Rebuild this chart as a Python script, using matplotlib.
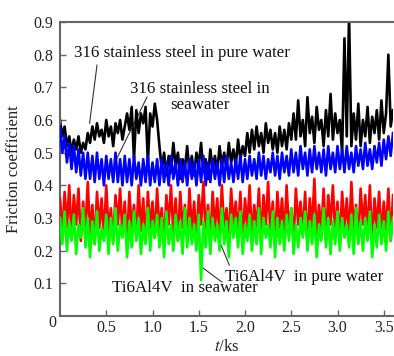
import numpy as np
import matplotlib
matplotlib.use('Agg')
import matplotlib.pyplot as plt

plt.rcParams['font.family'] = ['Liberation Serif', 'DejaVu Serif']
plt.rcParams['mathtext.fontset'] = 'stix'

# time axis (ks), one reading every 0.025 ks
t = np.linspace(0, 3.6, 145)

# 316 stainless steel in pure water
ss_pure = [0.60, 0.55, 0.58, 0.52, 0.55,
           0.50, 0.54, 0.51, 0.55, 0.50, 0.53, 0.51, 0.56,
           0.53, 0.58, 0.54, 0.59, 0.55, 0.57, 0.53, 0.60, 0.55, 0.58, 0.52, 0.59, 0.56, 0.60, 0.54, 0.58,
           0.62, 0.57, 0.64, 0.48, 0.63, 0.56, 0.62, 0.59, 0.64, 0.47, 0.62, 0.58, 0.65, 0.60,
           0.52, 0.45, 0.50, 0.43, 0.49, 0.44, 0.53, 0.46, 0.50, 0.42, 0.48, 0.45, 0.52, 0.44, 0.49, 0.43,
           0.50, 0.46, 0.53, 0.44, 0.48, 0.42, 0.51, 0.45, 0.49, 0.44, 0.52, 0.46, 0.50, 0.45, 0.53, 0.47,
           0.51, 0.46, 0.54, 0.48, 0.52, 0.49,
           0.56, 0.50, 0.57, 0.51, 0.58, 0.52, 0.56, 0.50, 0.59, 0.53, 0.57, 0.51, 0.56, 0.50, 0.58, 0.52,
           0.57, 0.51, 0.59, 0.54,
           0.62, 0.54, 0.66, 0.55, 0.60, 0.52, 0.67, 0.56, 0.61, 0.53, 0.64, 0.57, 0.60, 0.52, 0.63, 0.55,
           0.68, 0.54, 0.62, 0.56,
           0.60, 0.50, 0.85, 0.55, 0.92, 0.52, 0.62, 0.54, 0.65, 0.52, 0.60, 0.55, 0.64, 0.53, 0.61, 0.56,
           0.63, 0.54, 0.66, 0.56, 0.62, 0.80, 0.58, 0.63]

# 316 stainless steel in seawater
ss_sea = [0.58, 0.50, 0.55, 0.47, 0.53,
          0.45, 0.52, 0.44, 0.51, 0.43, 0.50, 0.42, 0.50,
          0.42, 0.49, 0.41, 0.50, 0.42, 0.48, 0.40, 0.49, 0.42, 0.48, 0.41, 0.50, 0.41, 0.48, 0.40, 0.49,
          0.41, 0.48, 0.40, 0.49, 0.42, 0.47, 0.40, 0.48, 0.41, 0.49, 0.40, 0.47, 0.41, 0.48,
          0.40, 0.48, 0.41, 0.47, 0.40, 0.49, 0.42, 0.47, 0.40, 0.48, 0.41, 0.47, 0.40, 0.48, 0.42, 0.47,
          0.40, 0.48, 0.41, 0.49, 0.40, 0.47, 0.41, 0.48, 0.42, 0.47, 0.40, 0.48, 0.41, 0.49, 0.42, 0.47,
          0.41, 0.48, 0.42, 0.49, 0.41, 0.48,
          0.42, 0.49, 0.43, 0.48, 0.42, 0.50, 0.43, 0.49, 0.42, 0.48, 0.44, 0.50, 0.43, 0.49, 0.42, 0.50,
          0.44, 0.49, 0.43, 0.51,
          0.44, 0.50, 0.43, 0.52, 0.45, 0.50, 0.43, 0.51, 0.44, 0.52, 0.45, 0.50, 0.44, 0.51, 0.43, 0.52,
          0.45, 0.50, 0.44, 0.52,
          0.45, 0.51, 0.44, 0.52, 0.45, 0.50, 0.44, 0.52, 0.46, 0.51, 0.45, 0.53, 0.46, 0.51, 0.45, 0.52,
          0.47, 0.53, 0.46, 0.54, 0.48, 0.55, 0.49, 0.56]

# Ti6Al4V in pure water
ti_pure = [0.36, 0.25, 0.38, 0.27, 0.40, 0.24, 0.37, 0.28, 0.39, 0.23, 0.35, 0.26, 0.41, 0.25, 0.34, 0.22, 0.38, 0.27, 0.36, 0.24,
           0.40, 0.26, 0.33, 0.23, 0.37, 0.28, 0.39, 0.25, 0.35, 0.22, 0.38, 0.27, 0.34, 0.24, 0.40, 0.26, 0.36, 0.23, 0.38, 0.27,
           0.35, 0.24, 0.39, 0.26, 0.33, 0.22, 0.37, 0.28, 0.40, 0.25, 0.36, 0.23, 0.38, 0.27, 0.34, 0.24, 0.39, 0.26, 0.35, 0.23,
           0.37, 0.28, 0.41, 0.25, 0.34, 0.22, 0.38, 0.27, 0.36, 0.24, 0.40, 0.26, 0.33, 0.23, 0.39, 0.28, 0.35, 0.25, 0.38, 0.22,
           0.36, 0.27, 0.40, 0.24, 0.34, 0.26, 0.39, 0.23, 0.37, 0.28, 0.41, 0.25, 0.35, 0.22, 0.38, 0.27, 0.36, 0.24, 0.40, 0.26,
           0.33, 0.23, 0.39, 0.28, 0.35, 0.25, 0.38, 0.22, 0.36, 0.27, 0.42, 0.24, 0.34, 0.26, 0.39, 0.23, 0.37, 0.28, 0.40, 0.25,
           0.35, 0.22, 0.38, 0.27, 0.36, 0.24, 0.41, 0.26, 0.34, 0.23, 0.39, 0.28, 0.37, 0.25, 0.40, 0.22, 0.36, 0.27, 0.38, 0.24,
           0.35, 0.26, 0.39, 0.23, 0.37]

# Ti6Al4V in seawater
ti_sea = [0.30, 0.22, 0.32, 0.20, 0.29, 0.23, 0.31, 0.19, 0.28, 0.24, 0.33, 0.21, 0.30, 0.18, 0.29, 0.22, 0.32, 0.20, 0.27, 0.23,
          0.31, 0.19, 0.30, 0.22, 0.33, 0.20, 0.28, 0.24, 0.31, 0.18, 0.29, 0.21, 0.32, 0.23, 0.30, 0.19, 0.28, 0.22, 0.33, 0.20,
          0.29, 0.24, 0.31, 0.21, 0.30, 0.18, 0.32, 0.22, 0.28, 0.20, 0.31, 0.23, 0.29, 0.19, 0.33, 0.21, 0.30, 0.22, 0.28, 0.20,
          0.31, 0.11, 0.29, 0.21, 0.32, 0.19, 0.30, 0.23, 0.28, 0.20, 0.33, 0.22, 0.29, 0.18, 0.31, 0.24, 0.30, 0.21, 0.32, 0.19,
          0.28, 0.23, 0.31, 0.20, 0.29, 0.22, 0.33, 0.19, 0.30, 0.24, 0.28, 0.21, 0.32, 0.18, 0.30, 0.22, 0.29, 0.20, 0.31, 0.23,
          0.33, 0.19, 0.28, 0.21, 0.30, 0.24, 0.32, 0.20, 0.29, 0.22, 0.31, 0.18, 0.28, 0.23, 0.33, 0.21, 0.30, 0.19, 0.29, 0.22,
          0.32, 0.20, 0.30, 0.24, 0.28, 0.21, 0.31, 0.19, 0.33, 0.22, 0.29, 0.20, 0.30, 0.23, 0.32, 0.18, 0.28, 0.21, 0.31, 0.22,
          0.29, 0.20, 0.32, 0.23, 0.30]

xticks = [0.5, 1.0, 1.5, 2.0, 2.5, 3.0, 3.5]
yticks = [0.1, 0.2, 0.3, 0.4, 0.5, 0.6, 0.7, 0.8, 0.9]

fig = plt.figure(figsize=(3.94, 3.56), dpi=100)
ax = fig.add_axes([60/394, 1-316/356, 333/394, 294/356])

# leader lines (behind the data)
ax.plot([0.40, 0.32], [0.768, 0.59], color='#333333', lw=0.8, zorder=1)
ax.plot([0.94, 0.59], [0.67, 0.468], color='#333333', lw=0.8, zorder=1)
ax.plot([1.83, 1.62], [0.156, 0.30], color='#333333', lw=0.8, zorder=1)
ax.plot([1.75, 1.545], [0.104, 0.147], color='#333333', lw=0.8, zorder=1)

lw = 1.9
ax.plot(t, ss_pure, color='black', lw=lw, zorder=2)
ax.plot(t, ss_sea, color='#0000ff', lw=lw, zorder=3)
ax.plot(t, ti_pure, color='#ff0000', lw=lw, zorder=4)
ax.plot(t, ti_sea, color='#00ff00', lw=lw, zorder=5)

ax.set_xlim(0, 3.6)
ax.set_ylim(0, 0.9)
ax.set_xticks(xticks)
ax.set_xticklabels(['%.1f' % v for v in xticks])
ax.set_yticks(yticks)
ax.set_yticklabels(['%.1f' % v for v in yticks])
ax.text(-0.086, -0.022, '0', ha='center', va='center', fontsize=11.5, color='#222222')

for s in ['left', 'bottom', 'top']:
    ax.spines[s].set_color('#666666')
    ax.spines[s].set_linewidth(1.5)
ax.spines['right'].set_visible(False)
ax.tick_params(direction='in', length=4, width=1, color='#666666', labelsize=11.5, labelcolor='#222222')
ax.tick_params(axis='y', pad=5)
ax.tick_params(axis='x', pad=3)

ax.set_ylabel('Friction coefficient', fontsize=12, color='#222222', labelpad=8)
ax.set_xlabel('$t$/ks', fontsize=12, color='#222222', labelpad=2)

fs = 12.2
ax.text(0.15, 0.805, '316 stainless steel in pure water', fontsize=fs, ha='left', va='center', color='#111111')
ax.text(1.51, 0.67, '316 stainless steel in\nseawater', fontsize=fs, ha='center', va='center',
        multialignment='center', color='#111111', linespacing=1.0)
ax.text(1.78, 0.12, 'Ti6Al4V  in pure water', fontsize=fs, ha='left', va='center', color='#111111')
ax.text(0.56, 0.086, 'Ti6Al4V  in seawater', fontsize=fs, ha='left', va='center', color='#111111')

fig.savefig('out.png', dpi=100)
